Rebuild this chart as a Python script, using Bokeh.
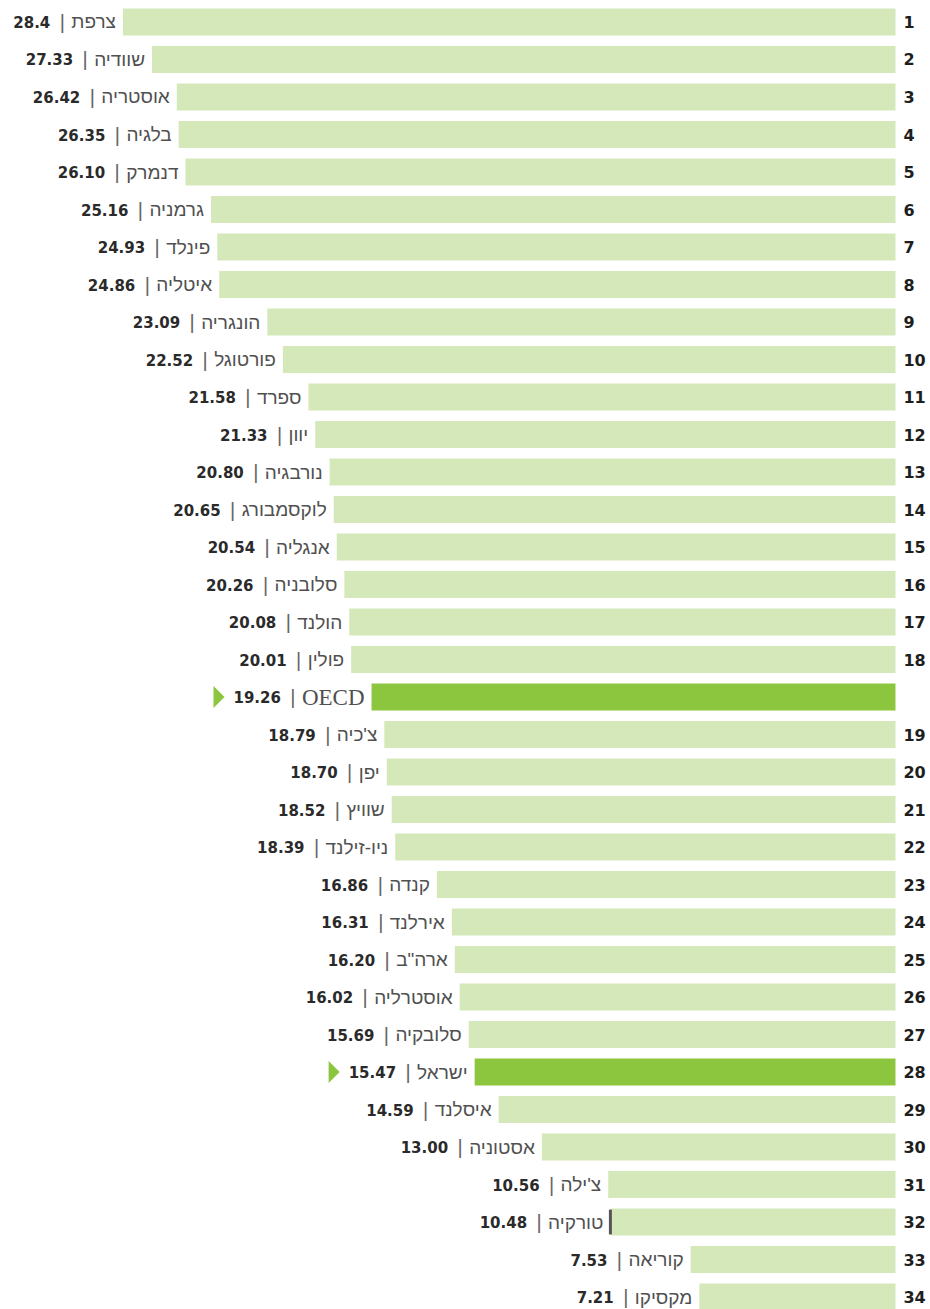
from bokeh.plotting import figure
from bokeh.models import ColumnDataSource, Range1d, CustomJS
from bokeh.events import DocumentReady
from bokeh.io import curdoc
from bokeh.embed import file_html
from bokeh.resources import INLINE
from bokeh.core.properties import value, field

# ---------------- data ----------------
names = ["צרפת", "שוודיה", "אוסטריה", "בלגיה", "דנמרק", "גרמניה", "פינלד", "איטליה",
         "הונגריה", "פורטוגל", "ספרד", "יוון", "נורבגיה", "לוקסמבורג", "אנגליה", "סלובניה",
         "הולנד", "פולין", "OECD", "צ'כיה", "יפן", "שוויץ", "ניו-זילנד", "קנדה", "אירלנד",
         "ארה\"ב", "אוסטרליה", "סלובקיה", "ישראל", "איסלנד", "אסטוניה", "צ'ילה", "טורקיה",
         "קוריאה", "מקסיקו"]
values = [28.4, 27.33, 26.42, 26.35, 26.10, 25.16, 24.93, 24.86, 23.09, 22.52, 21.58, 21.33,
          20.80, 20.65, 20.54, 20.26, 20.08, 20.01, 19.26, 18.79, 18.70, 18.52, 18.39, 16.86,
          16.31, 16.20, 16.02, 15.69, 15.47, 14.59, 13.00, 10.56, 10.48, 7.53, 7.21]
value_labels = ["28.4", "27.33", "26.42", "26.35", "26.10", "25.16", "24.93", "24.86", "23.09",
                "22.52", "21.58", "21.33", "20.80", "20.65", "20.54", "20.26", "20.08", "20.01",
                "19.26", "18.79", "18.70", "18.52", "18.39", "16.86", "16.31", "16.20", "16.02",
                "15.69", "15.47", "14.59", "13.00", "10.56", "10.48", "7.53", "7.21"]
ranks = ["1", "2", "3", "4", "5", "6", "7", "8", "9", "10", "11", "12", "13", "14", "15", "16",
         "17", "18", "", "19", "20", "21", "22", "23", "24", "25", "26", "27", "28", "29", "30",
         "31", "32", "33", "34"]
highlight = ["OECD", "ישראל"]
marked = ["טורקיה"]

# ---------------- layout / style ----------------
W, H = 930, 1309
X_LEFT, X_RIGHT = 32.90, -1.287
Y_BOTTOM, Y_TOP = 34.333, -0.5733
PPU = W / (X_LEFT - X_RIGHT)          # pixels per x unit
PPY = H / (Y_BOTTOM - Y_TOP)          # pixels per row

LIGHT = "#d5e8b9"
DARK = "#8cc63e"
NAME_FONT, NAME_SIZE = "Liberation Sans", "19px"
OECD_FONT, OECD_SIZE = "Liberation Serif", "23px"
VAL_FONT, VAL_SIZE = "DejaVu Sans", "15px"

GAP_NAME, GAP_SEP, GAP_VAL, GAP_ARROW = 7, 9, 12, 9
ARROW_W, ARROW_H = 11, 22

n = len(names)
rows = list(range(n))
fills = [DARK if nm in highlight else LIGHT for nm in names]
nfont = [OECD_FONT if nm == "OECD" else NAME_FONT for nm in names]
nsize = [OECD_SIZE if nm == "OECD" else NAME_SIZE for nm in names]

# rough initial estimates (refined in the browser by measuring the texts)
soff, voff = [], []
axs, ays = [], []
for nm, vl, v, r in zip(names, value_labels, values, rows):
    wn = len(nm) * 9.5
    wv = len(vl) * 9.5
    s = -(GAP_NAME + wn + GAP_SEP)
    soff.append(s)
    voff.append(s - GAP_VAL)
    if nm in highlight:
        xr = v + (-(s - GAP_VAL) + wv + GAP_ARROW) / PPU
        xl = xr + ARROW_W / PPU
        hh = ARROW_H / 2 / PPY
        axs.append([xl, xr, xl])
        ays.append([r - hh, r, r + hh])

src = ColumnDataSource(dict(y=rows, v=values, name=names, vlab=value_labels, rank=ranks,
                            fill=fills, nfont=nfont, nsize=nsize, soff=soff, voff=voff,
                            arrow=[nm in highlight for nm in names]))
asrc = ColumnDataSource(dict(xs=axs, ys=ays))
msrc = ColumnDataSource(dict(x=[v for nm, v in zip(names, values) if nm in marked],
                             y=[r for nm, r in zip(names, rows) if nm in marked]))

p = figure(width=W, height=H, x_range=Range1d(X_LEFT, X_RIGHT), y_range=Range1d(Y_BOTTOM, Y_TOP),
           output_backend="svg", toolbar_location=None, min_border=0,
           x_axis_location=None, y_axis_location=None)
p.outline_line_color = None
p.xgrid.visible = False
p.ygrid.visible = False
p.background_fill_color = "white"
p.border_fill_color = "white"

p.hbar(y="y", left=0, right="v", height=0.72, fill_color="fill", line_color=None, source=src)
p.rect(x="x", y="y", width=3, width_units="screen", height=0.66, fill_color="#555555",
       line_color=None, source=msrc)

p.text(x="v", y="y", text="name", x_offset=-GAP_NAME, text_align="right", text_baseline="middle",
       text_font=field("nfont"), text_font_size=field("nsize"), text_color="#505050", source=src)
p.text(x="v", y="y", text=value("|"), x_offset="soff", text_align="center", text_baseline="middle",
       text_font=value(NAME_FONT), text_font_size="20px", text_color="#666666", source=src)
p.text(x="v", y="y", text="vlab", x_offset="voff", text_align="right", text_baseline="middle",
       text_font=value(VAL_FONT), text_font_size=VAL_SIZE, text_font_style="bold",
       text_color="#2a2a2a", source=src)
p.text(x=0, y="y", text="rank", x_offset=8, text_align="left", text_baseline="middle",
       text_font=value(VAL_FONT), text_font_size="16px", text_font_style="bold",
       text_color="#1e1e1e", source=src)
p.patches(xs="xs", ys="ys", fill_color=DARK, line_color=None, source=asrc)

cb = CustomJS(args=dict(src=src, asrc=asrc, ppu=PPU, ppy=PPY, gn=GAP_NAME, gs=GAP_SEP,
                        gv=GAP_VAL, ga=GAP_ARROW, aw=ARROW_W, ah=ARROW_H,
                        vfont=VAL_FONT, vsize=VAL_SIZE), code="""
const ctx = document.createElement('canvas').getContext('2d');
const d = src.data;
const n = d.name.length;
const so = [], vo = [], xs = [], ys = [];
for (let i = 0; i < n; i++) {
  ctx.font = `normal ${d.nsize[i]} ${d.nfont[i]}`;
  const wn = ctx.measureText(d.name[i]).width;
  ctx.font = `bold ${vsize} ${vfont}`;
  const wv = ctx.measureText(d.vlab[i]).width;
  const s = -(gn + wn + gs);
  so.push(s);
  vo.push(s - gv);
  if (d.arrow[i]) {
    const xr = d.v[i] + (-(s - gv) + wv + ga) / ppu;
    const xl = xr + aw / ppu;
    const hh = ah / 2 / ppy;
    xs.push([xl, xr, xl]);
    ys.push([d.y[i] - hh, d.y[i], d.y[i] + hh]);
  }
}
src.data = Object.assign({}, d, {soff: so, voff: vo});
asrc.data = {xs: xs, ys: ys};
""")

doc = curdoc()
doc.add_root(p)
doc.js_on_event(DocumentReady, cb)

open("out.html", "w").write(file_html(p, INLINE))
